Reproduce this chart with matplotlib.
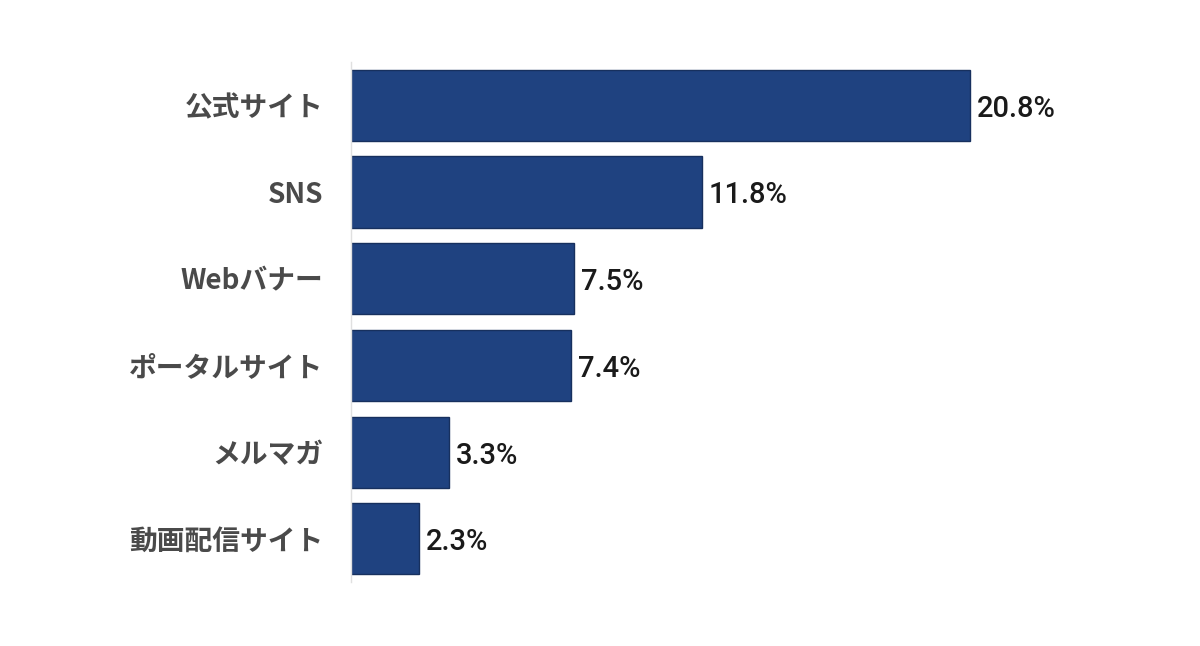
import matplotlib.pyplot as plt

plt.rcParams['font.family'] = ['Noto Sans CJK JP', 'DejaVu Sans']

# Data
categories = ["公式サイト", "SNS", "Webバナー", "ポータルサイト", "メルマガ", "動画配信サイト"]
values = [20.8, 11.8, 7.5, 7.4, 3.3, 2.3]

fig = plt.figure(figsize=(12, 6.46), dpi=100)
ax = fig.add_axes([0.2925, 0.099, 0.6, 0.805])

pos = list(range(len(categories)))
ax.barh(pos, values, height=0.82, color="#1f4280", edgecolor="#17305e", linewidth=1)
ax.set_ylim(len(categories) - 0.5, -0.5)
ax.set_xlim(0, 24.2)

for p, v in zip(pos, values):
    ax.text(v + 0.22, p + 0.04, f"{v}%", va="center", ha="left", fontsize=21,
            color="#1a1a1a", fontweight="medium", family=['Roboto', 'DejaVu Sans'])

ax.set_yticks(pos)
ax.set_yticklabels(categories, fontsize=20, color="#4a4a4a", fontweight="bold")
ax.tick_params(axis="y", length=0, pad=20)
ax.set_xticks([])

for s in ["top", "right", "bottom"]:
    ax.spines[s].set_visible(False)
ax.spines["left"].set_color("#e0e0e0")
ax.spines["left"].set_linewidth(1)

fig.savefig("out.png", dpi=100)
